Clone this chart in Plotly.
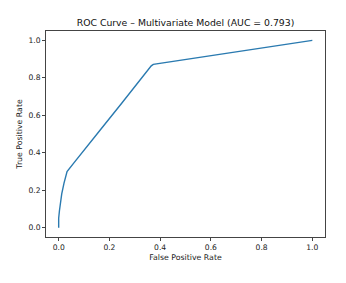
import plotly.graph_objects as go

# ROC curve points
fpr = [0.0, 0.0, 0.003, 0.007, 0.012, 0.021, 0.027, 0.033, 0.06, 0.10, 0.163, 0.25, 0.34, 0.355, 0.365, 0.373, 1.0]
tpr = [0.0, 0.05, 0.09, 0.13, 0.18, 0.238, 0.275, 0.30, 0.346, 0.415, 0.52, 0.667, 0.82, 0.848, 0.864, 0.872, 1.0]

tick_vals = [0.0, 0.2, 0.4, 0.6, 0.8, 1.0]
tick_text = ["0.0", "0.2", "0.4", "0.6", "0.8", "1.0"]

title_text = "ROC Curve – Multivariate Model (AUC = 0.793)"
x_title = "False Positive Rate"
y_title = "True Positive Rate"

fig = go.Figure()
fig.add_trace(go.Scatter(x=fpr, y=tpr, mode="lines",
                         line=dict(color="#2a7ab0", width=1.4), showlegend=False))

axis_common = dict(
    showgrid=False, zeroline=False, showline=True, mirror=True,
    linecolor="#444", linewidth=1, ticks="outside", ticklen=3, tickwidth=1,
    tickcolor="#444", tickfont=dict(family="DejaVu Sans", size=7.6, color="#222"),
    tickvals=tick_vals, ticktext=tick_text,
)

fig.update_layout(
    width=346, height=283,
    margin=dict(l=46, r=21, t=31, b=46),
    paper_bgcolor="white", plot_bgcolor="white",
    title=dict(text=title_text, x=0.5, xanchor="center", y=1 - 23 / 283, yanchor="middle",
               xref="paper",
               font=dict(family="DejaVu Sans", size=9.3, color="#111")),
    xaxis=dict(range=[-0.05, 1.05],
               title=dict(text=x_title, standoff=3,
                          font=dict(family="DejaVu Sans", size=7.8, color="#222")),
               **axis_common),
    yaxis=dict(range=[-0.05, 1.05],
               title=dict(text=y_title, standoff=4,
                          font=dict(family="DejaVu Sans", size=7.8, color="#222")),
               **axis_common),
)

fig.write_html("out.html")
